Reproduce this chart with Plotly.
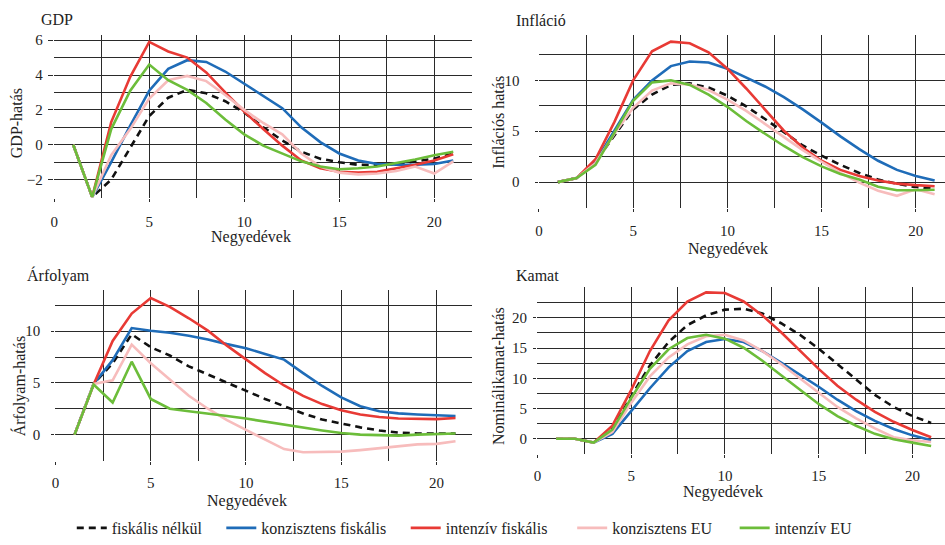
import plotly.graph_objects as go

quarters = list(range(1, 22))
series_names = ["fiskális nélkül", "konzisztens fiskális", "intenzív fiskális", "konzisztens EU", "intenzív EU"]
colors = ["#111111", "#1f6cb8", "#e83a35", "#f7bcbc", "#6cbd3a"]

gdp = {
    "fiskális nélkül": [0, -3, -2.0, -0.2, 1.65, 2.7, 3.15, 2.95, 2.5, 1.85, 1.0, 0.25, -0.4, -0.8, -1.0, -1.15, -1.15, -1.1, -0.97, -0.8, -0.5],
    "konzisztens fiskális": [0, -3, -1.0, 1.1, 3.1, 4.35, 4.85, 4.75, 4.2, 3.5, 2.75, 2.1, 1.0, 0.15, -0.5, -0.9, -1.1, -1.15, -1.15, -1.1, -0.9],
    "intenzív fiskális": [0, -3, 1.3, 3.9, 5.9, 5.35, 5.0, 4.15, 3.0, 1.9, 0.9, -0.05, -0.9, -1.35, -1.55, -1.6, -1.55, -1.35, -1.15, -0.9, -0.55],
    "konzisztens EU": [0, -3, -0.6, 0.9, 2.65, 3.7, 3.95, 3.65, 2.85, 2.0, 1.25, 0.6, -0.5, -1.25, -1.6, -1.7, -1.65, -1.5, -1.25, -1.65, -0.95],
    "intenzív EU": [0, -3, 0.9, 3.1, 4.6, 3.7, 3.15, 2.4, 1.45, 0.6, -0.05, -0.5, -0.95, -1.25, -1.4, -1.35, -1.25, -1.05, -0.85, -0.6, -0.4],
}
inflacio = {
    "fiskális nélkül": [0, 0.4, 2.0, 4.6, 7.15, 8.6, 9.55, 9.7, 9.3, 8.5, 7.45, 6.2, 4.9, 3.6, 2.6, 1.7, 0.9, 0.25, -0.15, -0.5, -0.65],
    "konzisztens fiskális": [0, 0.4, 2.0, 5.05, 8.1, 10.0, 11.4, 11.85, 11.75, 11.15, 10.3, 9.4, 8.35, 7.15, 5.85, 4.5, 3.25, 2.1, 1.2, 0.6, 0.15],
    "intenzív fiskális": [0, 0.4, 2.25, 5.9, 10.0, 12.85, 13.8, 13.65, 12.75, 11.15, 9.2, 7.15, 5.05, 3.4, 2.1, 1.2, 0.6, 0.15, -0.15, -0.3, -0.4],
    "konzisztens EU": [0, 0.4, 1.85, 4.75, 7.3, 9.0, 9.7, 9.6, 9.05, 8.1, 7.0, 5.7, 4.4, 3.15, 2.0, 0.9, -0.05, -0.85, -1.35, -0.7, -1.2],
    "intenzív EU": [0, 0.4, 1.7, 4.9, 8.0, 9.8, 10.0, 9.55, 8.6, 7.4, 6.0, 4.75, 3.55, 2.45, 1.55, 0.8, 0.25, -0.45, -0.8, -0.8, -0.75],
}
arfolyam = {
    "fiskális nélkül": [0, 4.9, 6.9, 9.7, 8.45, 7.65, 6.6, 5.8, 5.0, 4.2, 3.45, 2.75, 2.05, 1.45, 1.05, 0.7, 0.4, 0.2, 0.1, 0.1, 0.1],
    "konzisztens fiskális": [0, 4.9, 7.2, 10.3, 10.05, 9.85, 9.55, 9.2, 8.75, 8.35, 7.8, 7.25, 5.95, 4.7, 3.6, 2.75, 2.25, 2.05, 1.95, 1.85, 1.8],
    "intenzív fiskális": [0, 4.85, 9.05, 11.7, 13.2, 12.35, 11.25, 10.05, 8.6, 7.25, 5.95, 4.75, 3.75, 2.95, 2.35, 1.95, 1.7, 1.55, 1.5, 1.5, 1.6],
    "konzisztens EU": [0, 4.9, 5.25, 8.7, 6.9, 5.3, 3.75, 2.5, 1.4, 0.45, -0.45, -1.4, -1.7, -1.7, -1.65, -1.5, -1.3, -1.1, -0.95, -0.9, -0.65],
    "intenzív EU": [0, 4.85, 3.1, 7.05, 3.45, 2.5, 2.25, 2.05, 1.8, 1.55, 1.25, 0.95, 0.65, 0.4, 0.15, 0.0, -0.05, -0.1, 0.0, 0.05, 0.1],
}
kamat = {
    "fiskális nélkül": [0, 0, -0.65, 1.6, 7.0, 12.1, 16.0, 18.8, 20.4, 21.35, 21.5, 20.7, 19.1, 17.2, 14.9, 12.35, 9.7, 7.25, 5.25, 3.75, 2.6],
    "konzisztens fiskális": [0, 0, -0.65, 0.8, 4.55, 8.35, 11.8, 14.5, 16.0, 16.5, 16.0, 14.5, 12.6, 10.65, 8.6, 6.45, 4.55, 2.95, 1.6, 0.55, -0.25],
    "intenzív fiskális": [0, 0, -0.65, 2.15, 8.05, 14.5, 19.6, 22.7, 24.2, 24.1, 22.7, 20.4, 17.6, 14.5, 11.55, 8.75, 6.45, 4.45, 2.8, 1.45, 0.25],
    "konzisztens EU": [0, 0, -0.65, 1.1, 5.9, 10.3, 13.45, 15.6, 16.95, 17.2, 16.25, 14.5, 12.35, 9.95, 7.5, 5.25, 3.35, 1.7, 0.25, -0.25, -0.55],
    "intenzív EU": [0, 0, -0.65, 1.5, 6.7, 11.55, 14.8, 16.65, 17.2, 16.55, 15.05, 12.9, 10.5, 8.05, 5.75, 3.75, 2.15, 0.8, -0.1, -0.65, -1.2],
}

x_ticks = [0, 5, 10, 15, 20]
y_ticks = [[-2, 0, 2, 4, 6], [0, 5, 10], [0, 5, 10], [0, 5, 10, 15, 20]]
panel_titles = ["GDP", "Infláció", "Árfolyam", "Kamat"]
y_titles = ["GDP-hatás", "Inflációs hatás", "Árfolyam-hatás", "Nominálikamat-hatás"]
x_title = "Negyedévek"

W, H = 945, 545
FONT = "Liberation Serif"
GRID = "#2a2a2a"
TXT = "#222"
FS_TICK = 15
FS_TXT = 16

panels = [
    dict(data=gdp, px=(51, 470, 33.3, 200), xr=[-0.02, 21.96], yr=[-3.03, 6.32], ymin=1, ylen=5, ysoff=2, xsoff=7),
    dict(data=inflacio, px=(537.3, 945, 33.3, 210.7), xr=[-0.02, 21.55], yr=[-2.55, 14.5], ymin=2.5, ylen=3, ysoff=12, xsoff=6),
    dict(data=arfolyam, px=(52.3, 470, 294.3, 469.3), xr=[-0.02, 21.84], yr=[-2.55, 14.0], ymin=2.5, ylen=3, ysoff=8, xsoff=5),
    dict(data=kamat, px=(535.7, 945, 291.7, 462.3), xr=[-0.02, 21.74], yr=[-2.55, 25.05], ymin=2.5, ylen=3, ysoff=3, xsoff=5),
]

# legend entry text start positions (px) in the reference
legend_text_x = [113, 263, 448, 615, 778]
legend_y = 538

fig = go.Figure()
layout = dict(
    width=W, height=H, margin=dict(l=0, r=0, t=0, b=0),
    paper_bgcolor="white", plot_bgcolor="white",
    font=dict(family=FONT, size=FS_TICK, color=TXT),
    showlegend=True,
)
for k, tx in enumerate(legend_text_x):
    key = "legend" if k == 0 else "legend" + str(k + 1)
    layout[key] = dict(orientation="h", x=(tx - 44) / W, xanchor="left", y=1 - legend_y / H, yanchor="middle",
                       font=dict(family=FONT, size=FS_TXT, color=TXT), bgcolor="rgba(0,0,0,0)",
                       borderwidth=0, itemwidth=30)

annotations = []
for i, p in enumerate(panels):
    n = "" if i == 0 else str(i + 1)
    l, r, t, b = p["px"]
    common = dict(showline=False, zeroline=False, showgrid=True, gridcolor=GRID, gridwidth=1.4,
                  ticks="outside", tickcolor=GRID, tickwidth=1.4,
                  tickfont=dict(family=FONT, size=FS_TICK, color=TXT))
    layout["xaxis" + n] = dict(domain=[l / W, min(r / W, 1.0)], range=p["xr"], anchor="y" + n,
                               tickmode="array", tickvals=x_ticks, ticklen=3,
                               minor=dict(tickmode="linear", tick0=0, dtick=2.5, showgrid=True,
                                          gridcolor=GRID, gridwidth=1.4, ticks=""),
                               ticklabelstandoff=p["xsoff"], **common)
    layout["yaxis" + n] = dict(domain=[1 - b / H, 1 - t / H], range=p["yr"], anchor="x" + n,
                               tickmode="array", tickvals=y_ticks[i], ticklen=p["ylen"],
                               minor=dict(tickmode="linear", tick0=0, dtick=p["ymin"], showgrid=True,
                                          gridcolor=GRID, gridwidth=1.4, ticks=""),
                               ticklabelstandoff=p["ysoff"], **common)
    for j, name in enumerate(series_names):
        fig.add_trace(go.Scatter(
            x=quarters, y=p["data"][name], mode="lines", name=name,
            line=dict(color=colors[j], width=2.6, dash="7px,5px" if j == 0 else "solid"),
            xaxis="x" + n, yaxis="y" + n, showlegend=(i == 0),
            legend="legend" if j == 0 else "legend" + str(j + 1),
        ))

title_pos = [(36, 18), (513, 19), (22, 280), (513, 280)]
ytitle_pos = [(13, 124), (497, 123), (16, 393), (497, 382)]
xtitle_pos = [(249, 240), (727, 253), (245, 510), (722, 501)]
for i in range(4):
    tx, ty = title_pos[i]
    annotations.append(dict(text=panel_titles[i], x=tx / W, y=1 - ty / H, xref="paper", yref="paper",
                            xanchor="left", yanchor="middle", showarrow=False,
                            font=dict(family=FONT, size=FS_TXT, color=TXT)))
    yx, yy = ytitle_pos[i]
    annotations.append(dict(text=y_titles[i], x=yx / W, y=1 - yy / H, xref="paper", yref="paper",
                            xanchor="center", yanchor="middle", textangle=-90, showarrow=False,
                            font=dict(family=FONT, size=FS_TXT, color=TXT)))
    xx, xy = xtitle_pos[i]
    annotations.append(dict(text=x_title, x=xx / W, y=1 - xy / H, xref="paper", yref="paper",
                            xanchor="center", yanchor="middle", showarrow=False,
                            font=dict(family=FONT, size=FS_TXT, color=TXT)))

layout["annotations"] = annotations
fig.update_layout(**layout)
fig.write_html("out.html")
